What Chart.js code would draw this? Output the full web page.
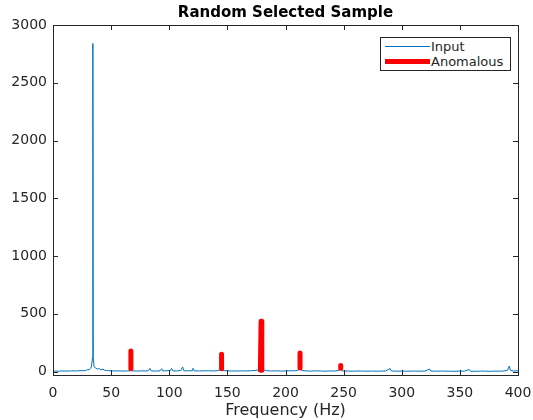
<!DOCTYPE html>
<html>
<head>
<meta charset="utf-8">
<script src="https://cdn.jsdelivr.net/npm/chart.js@4/dist/chart.umd.min.js"></script>
<style>
  body { margin: 0; background: #fff; }
  #wrap { position: relative; width: 533px; height: 420px; }
  #legend {
    position: absolute; left: 380px; top: 37px; width: 129px; height: 32px;
    border: 1px solid #262626; background: #fff;
    font-family: "DejaVu Sans", sans-serif; font-size: 13px; color: #262626;
  }
  .row { position: absolute; left: 0; height: 15px; line-height: 15px; }
  .swatch { position: absolute; left: 4px; width: 45px; }
  .lbl { position: absolute; left: 50px; white-space: nowrap; }
</style>
</head>
<body>
<div id="wrap">
  <canvas id="chart" width="533" height="420"></canvas>
  <div id="legend"></div>
</div>
<script>
// spectrum values (Hz, amplitude)
var inputHz = [0, 4, 8, 12, 16, 20, 24, 27, 29, 30, 31, 32, 33, 34, 34.3, 34.6, 35.3, 36.5, 38, 40, 41, 43, 44, 46, 48,
  52, 56, 60, 64, 66, 67, 68, 72, 76, 80, 82, 83.4, 84.5, 88, 92, 93.5, 94.5, 98, 101, 102, 103, 106, 110, 111.5, 112.5,
  116, 120, 120.5, 121.5, 126, 130, 134, 138, 142, 145, 146, 150, 154, 158, 162, 166, 170, 174, 177, 179, 181, 184,
  188, 192, 196, 200, 204, 208, 211, 212.5, 214, 218, 222, 226, 230, 234, 238, 242, 246, 247.5, 249, 254, 258, 262,
  266, 270, 274, 278, 282, 286, 290, 291, 296, 300, 305, 310, 315, 320, 324, 325, 330, 335, 340, 345, 350, 354, 358,
  359, 364, 368, 372, 376, 380, 384, 388, 391, 392.5, 393.5, 396, 400];
var inputAmp = [4, 3, 5, 4, 6, 5, 8, 7, 12, 18, 14, 25, 40, 120, 2840, 120, 45, 30, 22, 25, 15, 20, 12, 9, 7,
  5, 6, 4, 5, 7, 12, 6, 4, 6, 5, 7, 28, 5, 4, 6, 24, 5, 7, 9, 28, 6, 5, 9, 40, 7,
  6, 7, 28, 6, 5, 6, 7, 5, 8, 22, 9, 6, 5, 4, 6, 5, 7, 9, 16, 35, 14, 7,
  5, 6, 4, 5, 6, 7, 12, 32, 9, 5, 4, 6, 5, 3, 5, 4, 9, 26, 5, 4, 3, 5,
  4, 3, 4, 3, 4, 5, 26, 5, 3, 4, 3, 4, 3, 4, 22, 4, 3, 4, 3, 2, 4, 3, 18,
  3, 2, 4, 3, 2, 4, 3, 5, 12, 48, 9, 5, 6];

// anomalous segments, null = gap
var anomHz = [67, 67, null, 145, 145, null, 178.4, 179, 179.6, null, 212.5, 212.5, null, 247.5, 247.5];
var anomAmp = [25, 178, null, 25, 150, null, 12, 435, 12, null, 30, 160, null, 28, 52];

var xTicks = [0, 50, 100, 150, 200, 250, 300, 350, 400];
var yTicks = [0, 500, 1000, 1500, 2000, 2500, 3000];

var titleText = 'Random Selected Sample';
var xTitle = 'Frequency (Hz)';
var inputColor = 'rgb(0, 114, 189)';
var anomColor = 'rgb(255, 0, 0)';
var axisColor = '#262626';

function toPoints(xs, ys) {
  return xs.map((x, i) => ({ x: x === null ? NaN : x, y: ys[i] }));
}

// matlab style box, inward ticks and title
var boxPlugin = {
  id: 'box',
  afterDraw: function(chart) {
    var ctx = chart.ctx, a = chart.chartArea;
    var xs = chart.scales.x, ys = chart.scales.y;
    ctx.save();
    ctx.strokeStyle = axisColor;
    ctx.lineWidth = 1;
    ctx.strokeRect(Math.round(a.left) + 0.5, Math.round(a.top) + 0.5,
      Math.round(a.right - a.left), Math.round(a.bottom - a.top));
    ctx.beginPath();
    xTicks.forEach(function(v) {
      var px = Math.round(xs.getPixelForValue(v)) + 0.5;
      ctx.moveTo(px, a.bottom); ctx.lineTo(px, a.bottom - 5);
      ctx.moveTo(px, a.top); ctx.lineTo(px, a.top + 5);
    });
    yTicks.forEach(function(v) {
      var py = Math.round(ys.getPixelForValue(v)) + 0.5;
      ctx.moveTo(a.left, py); ctx.lineTo(a.left + 5, py);
      ctx.moveTo(a.right, py); ctx.lineTo(a.right - 5, py);
    });
    ctx.stroke();
    ctx.fillStyle = '#000';
    ctx.font = 'bold 15px "DejaVu Sans"';
    ctx.textAlign = 'center';
    ctx.textBaseline = 'middle';
    ctx.fillText(titleText, (a.left + a.right) / 2, 13);
    ctx.fillStyle = axisColor;
    ctx.font = '16px "DejaVu Sans"';
    ctx.fillText(xTitle, (a.left + a.right) / 2, 411);
    ctx.restore();
  }
};

var chart = new Chart(document.getElementById('chart').getContext('2d'), {
  type: 'line',
  data: {
    datasets: [{
      label: 'Input',
      data: toPoints(inputHz, inputAmp),
      borderColor: inputColor,
      borderWidth: 1,
      pointRadius: 0,
      tension: 0,
      order: 2
    }, {
      label: 'Anomalous',
      data: toPoints(anomHz, anomAmp),
      borderColor: anomColor,
      borderWidth: 5,
      borderCapStyle: 'round',
      borderJoinStyle: 'round',
      pointRadius: 0,
      spanGaps: false,
      tension: 0,
      order: 1
    }]
  },
  options: {
    responsive: false,
    animation: false,
    layout: { padding: { top: 25, right: 15, left: 0, bottom: 0 } },
    plugins: { legend: { display: false }, tooltip: { enabled: false }, title: { display: false } },
    scales: {
      x: {
        type: 'linear', min: 0, max: 400,
        grid: { display: false, drawTicks: false },
        border: { display: false },
        afterBuildTicks: function(s) { s.ticks = xTicks.map(v => ({ value: v })); },
        afterFit: function(s) { s.height = 45; s.paddingLeft = 0; s.paddingRight = 0; },
        ticks: { padding: 10, color: axisColor, font: { family: 'DejaVu Sans', size: 14 }, maxRotation: 0,
          callback: function(v) { return String(v); } }
      },
      y: {
        type: 'linear', min: -30, max: 3000,
        grid: { display: false, drawTicks: false },
        border: { display: false },
        afterBuildTicks: function(s) { s.ticks = yTicks.map(v => ({ value: v })); },
        afterFit: function(s) { s.width = 53; s.paddingTop = 0; s.paddingBottom = 0; },
        ticks: { padding: 6, color: axisColor, font: { family: 'DejaVu Sans', size: 14 },
          callback: function(v) { return String(v); } }
      }
    }
  },
  plugins: [boxPlugin]
});

// legend box like the matlab one
var legend = document.getElementById('legend');
chart.data.datasets.forEach(function(ds, i) {
  var row = document.createElement('div');
  row.className = 'row';
  row.style.top = (i * 15 + 1) + 'px';
  row.style.width = '100%';
  var sw = document.createElement('div');
  sw.className = 'swatch';
  sw.style.top = (7.5 - ds.borderWidth / 2) + 'px';
  sw.style.height = ds.borderWidth + 'px';
  sw.style.background = ds.borderColor;
  var lb = document.createElement('div');
  lb.className = 'lbl';
  lb.textContent = ds.label;
  row.appendChild(sw);
  row.appendChild(lb);
  legend.appendChild(row);
});
</script>
</body>
</html>
